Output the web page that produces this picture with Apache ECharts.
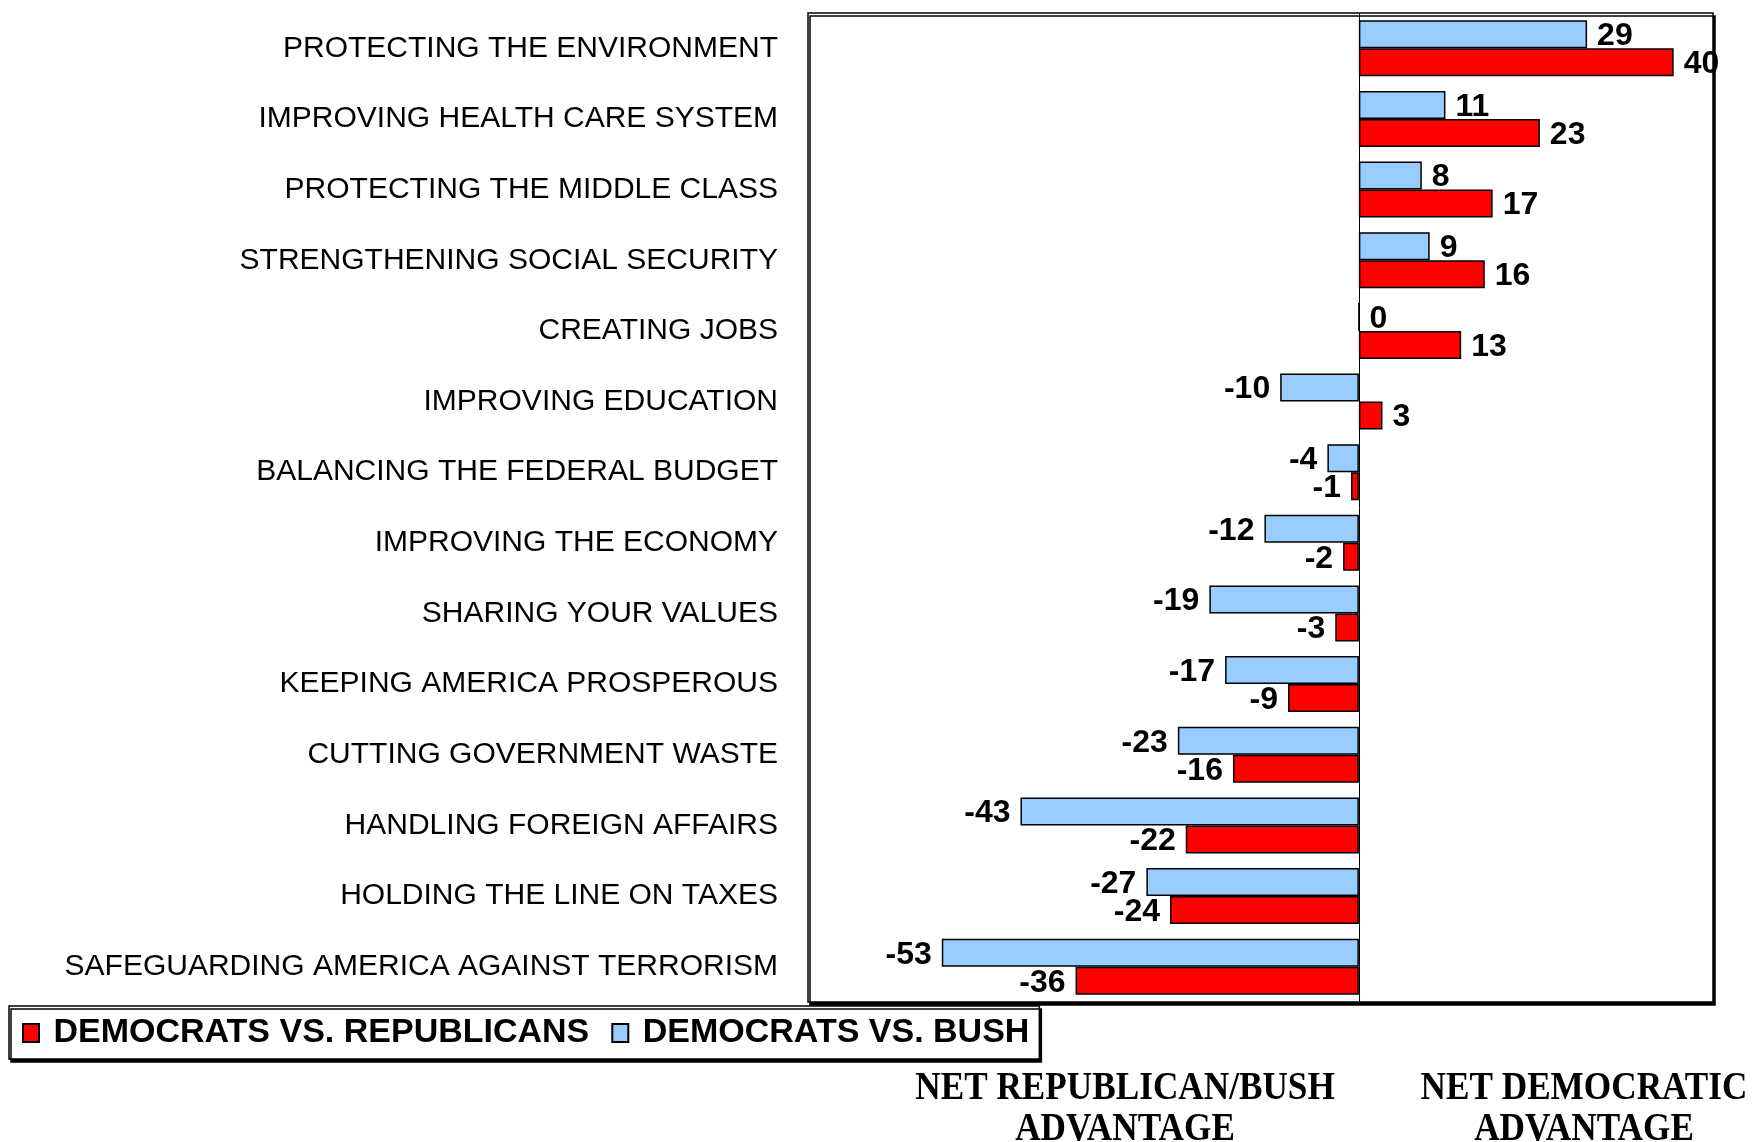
<!DOCTYPE html>
<html>
<head>
<meta charset="utf-8">
<script src="https://cdn.jsdelivr.net/npm/echarts@6/dist/echarts.min.js"></script>
<style>html,body{margin:0;padding:0;background:#fff;}#c{width:1752px;height:1142px;}</style>
</head>
<body>
<div id="c"></div>
<script>
const categories = ['PROTECTING THE ENVIRONMENT','IMPROVING HEALTH CARE SYSTEM','PROTECTING THE MIDDLE CLASS','STRENGTHENING SOCIAL SECURITY','CREATING JOBS','IMPROVING EDUCATION','BALANCING THE FEDERAL BUDGET','IMPROVING THE ECONOMY','SHARING YOUR VALUES','KEEPING AMERICA PROSPEROUS','CUTTING GOVERNMENT WASTE','HANDLING FOREIGN AFFAIRS','HOLDING THE LINE ON TAXES','SAFEGUARDING AMERICA AGAINST TERRORISM'];
const demVsBush = [29,11,8,9,0,-10,-4,-12,-19,-17,-23,-43,-27,-53];
const demVsReps = [40,23,17,16,13,3,-1,-2,-3,-9,-16,-22,-24,-36];
const seriesNames = ['DEMOCRATS VS. REPUBLICANS','DEMOCRATS VS. BUSH'];
const bottomTexts = ['NET REPUBLICAN/BUSH\nADVANTAGE','NET DEMOCRATIC\nADVANTAGE'];

const labelFont = {fontFamily:'Liberation Sans, Arial, sans-serif', fontWeight:'bold', fontSize:32, color:'#000'};
function toItems(arr){
  return arr.map(v => ({value:v, label:{show:true, position: v < 0 ? 'left' : 'right', distance:10, offset:[0,2], ...labelFont}}));
}

const chart = echarts.init(document.getElementById('c'), null, {renderer:'canvas'});
chart.setOption({
  animation:false,
  backgroundColor:'#fff',
  grid:{left:808, right:39, top:13, bottom:140, show:true, borderColor:'#000', borderWidth:1.5,
        backgroundColor:'#fff', shadowColor:'#000', shadowOffsetX:2, shadowOffsetY:3, shadowBlur:0},
  legend:{
    data:seriesNames, left:9, top:1006, orient:'horizontal', icon:'rect',
    backgroundColor:'#fff', borderColor:'#000', borderWidth:1.5,
    shadowColor:'#000', shadowOffsetX:2, shadowOffsetY:3, shadowBlur:0,
    padding:[10,10,9,13], itemGap:22, itemWidth:16, itemHeight:18,
    formatter: n => ' ' + n,
    textStyle:{fontFamily:'Liberation Sans, Arial, sans-serif', fontWeight:'bold', fontSize:34, color:'#000'}
  },
  xAxis:{type:'value', min:-70, max:45, show:false, splitLine:{show:false}},
  yAxis:{type:'category', data:categories, inverse:true,
    axisLine:{show:false}, axisTick:{show:false}, splitLine:{show:false},
    axisLabel:{margin:30, padding:[4,0,0,0], fontFamily:'Liberation Sans, Arial, sans-serif', fontSize:30, color:'#000'}},
  series:[
    {name:seriesNames[1], type:'bar', data:toItems(demVsBush), barWidth:28, barGap:'0%',
     itemStyle:{color:'#99ccff', borderColor:'#000', borderWidth:1.5},
     markLine:{silent:true, symbol:'none', label:{show:false}, lineStyle:{color:'#000', width:1, type:'solid'}, data:[{xAxis:0}]}},
    {name:seriesNames[0], type:'bar', data:toItems(demVsReps), barWidth:28, barGap:'0%',
     itemStyle:{color:'#ff0000', borderColor:'#000', borderWidth:1.5}}
  ],
  graphic:[
    {type:'text', x:1125, y:1068, scaleX:0.88, style:{text:bottomTexts[0], align:'center', verticalAlign:'top', lineHeight:41,
      font:'bold 40px "Liberation Serif", "Times New Roman", serif', fill:'#000'}},
    {type:'text', x:1584, y:1068, scaleX:0.88, style:{text:bottomTexts[1], align:'center', verticalAlign:'top', lineHeight:41,
      font:'bold 40px "Liberation Serif", "Times New Roman", serif', fill:'#000'}}
  ]
});
</script>
</body>
</html>
